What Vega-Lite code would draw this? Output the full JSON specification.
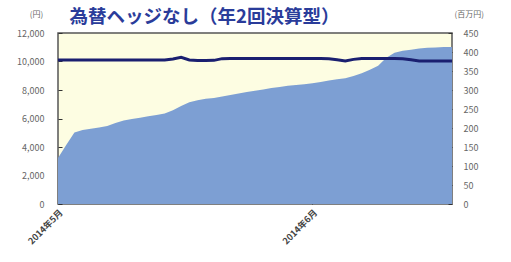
{
  "$schema": "https://vega.github.io/schema/vega-lite/v6.json",
  "width": 394,
  "height": 171,
  "autosize": "none",
  "padding": {"left": 58, "top": 33, "right": 59, "bottom": 58},
  "config": {
    "view": {"fill": "#fdfde2", "stroke": "#555555", "strokeWidth": 1.5},
    "font": "Noto Sans CJK JP",
    "axis": {"grid": false, "labelFontSize": 9, "labelColor": "#666666", "tickColor": "#333333", "domain": false}
  },
  "title": {
    "text": "為替ヘッジなし（年2回決算型）",
    "anchor": "start",
    "dx": 53,
    "dy": 20,
    "offset": 4,
    "fontSize": 18.5,
    "fontWeight": "bold",
    "color": "#2a3c9a",
    "font": "Noto Sans CJK JP"
  },
  "data": {
    "values": [
      {"date": "2014/05/01", "nav": 10100, "assets": 121},
      {"date": "2014/05/02", "nav": 10100, "assets": 155},
      {"date": "2014/05/03", "nav": 10100, "assets": 188},
      {"date": "2014/05/04", "nav": 10100, "assets": 195},
      {"date": "2014/05/05", "nav": 10100, "assets": 198},
      {"date": "2014/05/06", "nav": 10100, "assets": 201},
      {"date": "2014/05/07", "nav": 10100, "assets": 205},
      {"date": "2014/05/08", "nav": 10100, "assets": 213},
      {"date": "2014/05/09", "nav": 10100, "assets": 220},
      {"date": "2014/05/10", "nav": 10100, "assets": 224},
      {"date": "2014/05/11", "nav": 10100, "assets": 227},
      {"date": "2014/05/12", "nav": 10100, "assets": 231},
      {"date": "2014/05/13", "nav": 10100, "assets": 234},
      {"date": "2014/05/14", "nav": 10110, "assets": 238},
      {"date": "2014/05/15", "nav": 10180, "assets": 247},
      {"date": "2014/05/16", "nav": 10290, "assets": 258},
      {"date": "2014/05/17", "nav": 10110, "assets": 268},
      {"date": "2014/05/18", "nav": 10070, "assets": 273},
      {"date": "2014/05/19", "nav": 10070, "assets": 277},
      {"date": "2014/05/20", "nav": 10080, "assets": 279},
      {"date": "2014/05/21", "nav": 10200, "assets": 283},
      {"date": "2014/05/22", "nav": 10210, "assets": 287},
      {"date": "2014/05/23", "nav": 10210, "assets": 291},
      {"date": "2014/05/24", "nav": 10210, "assets": 295},
      {"date": "2014/05/25", "nav": 10210, "assets": 298},
      {"date": "2014/05/26", "nav": 10210, "assets": 301},
      {"date": "2014/05/27", "nav": 10210, "assets": 305},
      {"date": "2014/05/28", "nav": 10210, "assets": 308},
      {"date": "2014/05/29", "nav": 10210, "assets": 311},
      {"date": "2014/05/30", "nav": 10210, "assets": 313},
      {"date": "2014/05/31", "nav": 10210, "assets": 315},
      {"date": "2014/06/01", "nav": 10210, "assets": 318},
      {"date": "2014/06/02", "nav": 10210, "assets": 321},
      {"date": "2014/06/03", "nav": 10200, "assets": 325},
      {"date": "2014/06/04", "nav": 10120, "assets": 328},
      {"date": "2014/06/05", "nav": 10030, "assets": 331},
      {"date": "2014/06/06", "nav": 10150, "assets": 337},
      {"date": "2014/06/07", "nav": 10210, "assets": 344},
      {"date": "2014/06/08", "nav": 10210, "assets": 353},
      {"date": "2014/06/09", "nav": 10210, "assets": 364},
      {"date": "2014/06/10", "nav": 10210, "assets": 385},
      {"date": "2014/06/11", "nav": 10210, "assets": 398},
      {"date": "2014/06/12", "nav": 10200, "assets": 403},
      {"date": "2014/06/13", "nav": 10120, "assets": 406},
      {"date": "2014/06/14", "nav": 10040, "assets": 409},
      {"date": "2014/06/15", "nav": 10030, "assets": 411},
      {"date": "2014/06/16", "nav": 10030, "assets": 412},
      {"date": "2014/06/17", "nav": 10030, "assets": 413},
      {"date": "2014/06/18", "nav": 10030, "assets": 413}
    ]
  },
  "encoding": {
    "x": {
      "field": "date",
      "type": "temporal",
      "scale": {"domain": [{"year": 2014, "month": 5, "date": 1}, {"year": 2014, "month": 6, "date": 18}], "nice": false},
      "axis": {
        "title": null,
        "values": [{"year": 2014, "month": 5, "date": 1}, {"year": 2014, "month": 6, "date": 1}],
        "format": "%Y年%-m月",
        "labelAngle": -45,
        "labelColor": "#444444",
        "labelFontWeight": "bold",
        "labelFontSize": 9,
        "tickSize": -4,
        "labelPadding": 8,
        "labelFlush": false
      }
    }
  },
  "layer": [
    {
      "mark": {"type": "area", "color": "#7d9fd3", "opacity": 1},
      "encoding": {
        "y": {
          "field": "assets",
          "type": "quantitative",
          "scale": {"domain": [0, 450], "nice": false},
          "axis": {
            "orient": "right",
            "values": [0, 50, 100, 150, 200, 250, 300, 350, 400, 450],
            "format": "d",
            "title": "(百万円)",
            "titleAngle": 0,
            "titleX": 2,
            "titleY": -15,
            "titleFontSize": 8,
            "titleFontWeight": "normal",
            "titleColor": "#666666",
            "titleAlign": "left",
            "tickSize": -4,
            "labelPadding": 15
          }
        }
      }
    },
    {
      "mark": {"type": "line", "color": "#1a1f70", "strokeWidth": 3},
      "encoding": {
        "y": {
          "field": "nav",
          "type": "quantitative",
          "scale": {"domain": [0, 12000], "nice": false},
          "axis": {
            "orient": "left",
            "values": [0, 2000, 4000, 6000, 8000, 10000, 12000],
            "format": ",d",
            "title": "(円)",
            "titleAngle": 0,
            "titleX": -22,
            "titleY": -15,
            "titleFontSize": 8,
            "titleFontWeight": "normal",
            "titleColor": "#666666",
            "titleAlign": "center",
            "tickSize": -4,
            "labelPadding": 18
          }
        }
      }
    }
  ],
  "resolve": {"scale": {"y": "independent"}}
}
